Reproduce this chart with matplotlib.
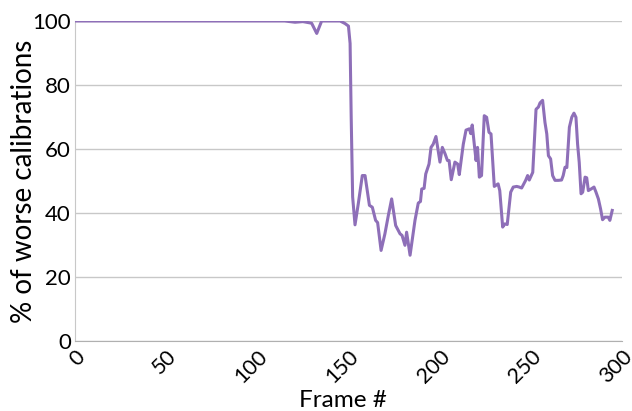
import numpy as np
import matplotlib.pyplot as plt

# values (frame, % of worse calibrations)
frames = [0, 50, 100, 115, 120.7, 125, 129.8, 132.6, 135.3, 145.4, 148.1, 150, 150.9,
          151.5, 152.3, 153.6, 155.4, 157.6, 159.1, 161.5, 163.1, 164.9, 166, 167.9,
          170, 171.9, 173.7, 175.9, 178.3, 179.4, 181, 181.9, 183.8, 186.5, 188.3,
          189.5, 190.2, 191.5, 192.4, 194.2, 195.3, 196.5, 198, 200.2, 201.5, 203,
          204.3, 205.2, 206.4, 208.4, 209.9, 210.8, 213, 214.5, 216.3, 217.1, 217.9,
          219.4, 220, 220.8, 221.8, 223, 224.5, 225.8, 227.1, 228.2, 230, 232.1, 233,
          234.6, 235.8, 237.1, 239, 240.4, 242.3, 243.7, 245, 247.2, 248.3, 249.2,
          251.1, 252.9, 254.2, 255.1, 256.5, 257.8, 258.8, 259.7, 260.9, 262, 263.3,
          265.1, 266.9, 267.8, 268.8, 269.8, 271.2, 272.5, 273.7, 274.8, 275.7, 276.6,
          277.6, 278.5, 279.8, 280.7, 281.6, 283.1, 284.7, 285.8, 287.1, 288.3, 289.4,
          290.7, 292.5, 293.4, 294.7]
values = [100, 100, 100, 100, 99.6, 99.8, 99.3, 96.1, 100, 100, 99.2, 98.4, 93,
          70, 45, 36.3, 42.9, 51.7, 51.7, 42.4, 41.8, 37.7, 37, 28.3,
          33.5, 39.3, 44.4, 36.1, 33.5, 33, 29.9, 34, 26.8, 37.7, 43.1,
          43.6, 47.5, 47.7, 52.2, 55.3, 60.5, 61.5, 63.9, 55.9, 60.5, 58.5,
          56.4, 56.4, 50.4, 55.9, 55.3, 52, 61.5, 65.9, 66.3, 64.8, 67.5,
          59.5, 56.4, 60.5, 51.2, 51.7, 70.4, 69.9, 65.2, 64.7, 48.3, 49.1, 47,
          35.6, 36.6, 36.4, 46.5, 48.1, 48.3, 48.1, 47.8, 50.2, 51.7, 50.3,
          52.7, 72.4, 73.1, 74.4, 75.2, 68.3, 64.7, 57.9, 56.9, 51.7, 50.2,
          50.2, 50.3, 51.7, 54.3, 54.2, 66.8, 69.9, 71.2, 69.9, 61.5, 55.8,
          46, 46.5, 51.2, 51, 47, 47.5, 48.1, 46.5, 44.4, 41.3, 37.9,
          38.7, 38.7, 37.7, 40.8]

x_ticks = [0, 50, 100, 150, 200, 250, 300]
y_ticks = [0, 20, 40, 60, 80, 100]

plt.rcParams['font.family'] = ['Lato', 'DejaVu Sans']

fig = plt.figure(figsize=(6.32, 4.11), dpi=100)
ax = fig.add_axes([0.1187, 0.1703, 0.8653, 0.7787])

ax.plot(frames, values, color='#8e6fb8', linewidth=2.2, solid_joinstyle='round', zorder=3)

ax.set_xlim(0, 300)
ax.set_ylim(0, 100)
ax.set_xticks(x_ticks)
ax.set_yticks(y_ticks)
ax.set_xticklabels([str(t) for t in x_ticks], rotation=45, ha='right', va='top',
                   rotation_mode='anchor', fontsize=15.5)
ax.set_yticklabels([str(t) for t in y_ticks], fontsize=16)
ax.tick_params(axis='both', length=0, pad=3)
ax.tick_params(axis='x', pad=4)

ax.grid(axis='y', color='#c8c8c8', linewidth=1.0)
ax.set_axisbelow(True)
for s in ['top', 'right']:
    ax.spines[s].set_visible(False)
ax.spines['left'].set_color('#c8c8c8')
ax.spines['bottom'].set_color('#b0b0b0')
ax.spines['bottom'].set_linestyle((0, (1, 1)))

ax.set_xlabel('Frame #', fontsize=17.5)
ax.set_ylabel('% of worse calibrations', fontsize=20)
ax.xaxis.set_label_coords(0.49, -0.152)
ax.yaxis.set_label_coords(-0.07, 0.5)

fig.savefig('out.png', dpi=100)
